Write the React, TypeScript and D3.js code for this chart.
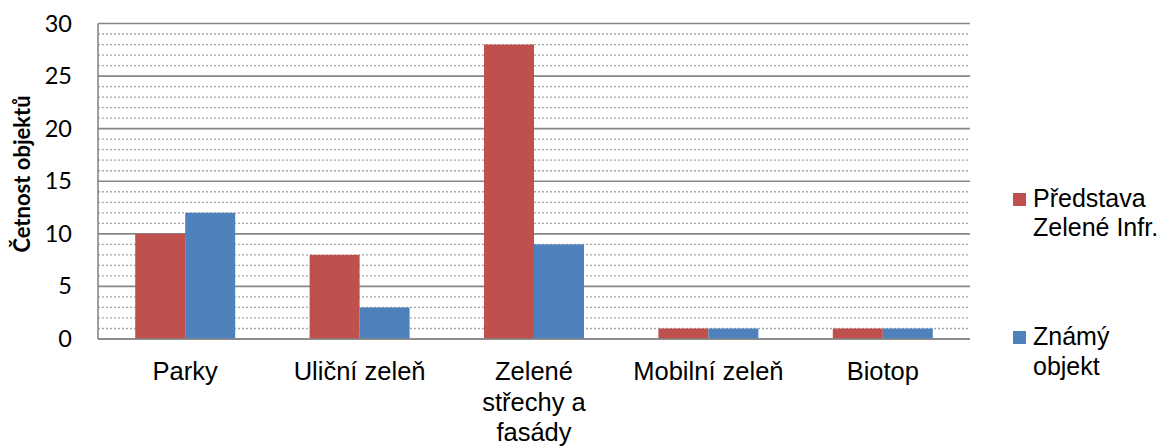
import React from "react";
import * as d3 from "d3";

const categories: string[][] = [["Parky"], ["Uliční zeleň"], ["Zelené", "střechy a", "fasády"], ["Mobilní zeleň"], ["Biotop"]];
const seriesNames: string[][] = [["Představa", "Zelené Infr."], ["Známý", "objekt"]];
const predstava: number[] = [10, 8, 28, 1, 1];
const znamy: number[] = [12, 3, 9, 1, 1];
const yTicks: number[] = [0, 5, 10, 15, 20, 25, 30];
const colors = ["#C0504D", "#4F81BD"];

const W = 1174, H = 446;
const left = 98, right = 970, top = 23.5, bottom = 339;
const arial = "'Liberation Sans', Arial, sans-serif";
const calibri = "Lato, 'Liberation Sans', sans-serif";

export default function App() {
  const x0 = d3.scaleBand<number>().domain(d3.range(categories.length)).range([left, right]).paddingInner(0).paddingOuter(0);
  const y = d3.scaleLinear().domain([0, 30]).range([bottom, top]);
  const groupW = x0.bandwidth() * (100 / 174.4);
  const x1 = d3.scaleBand<number>().domain([0, 1]).range([0, groupW]);
  const series = [predstava, znamy];
  const minor = d3.range(0, 31).filter((v) => v % 5 !== 0);

  return (
    <svg width={W} height={H} style={{ position: "absolute", left: 0, top: 0, background: "#fff" }} fontFamily={arial}>
      {minor.map((v) => (
        <line key={"m" + v} x1={left} x2={right} y1={y(v)} y2={y(v)} stroke="#a6a6a6" strokeWidth={1.3} strokeDasharray="2,2" />
      ))}
      {yTicks.map((v) => (
        <line key={"M" + v} x1={left} x2={right} y1={y(v)} y2={y(v)} stroke="#878787" strokeWidth={1.6} />
      ))}
      {series.map((vals, si) =>
        vals.map((v, i) => {
          const bx = (x0(i) as number) + (x0.bandwidth() - groupW) / 2 + (x1(si) as number);
          return <rect key={si + "-" + i} x={bx} y={y(v)} width={x1.bandwidth()} height={y(0) - y(v)} fill={colors[si]} />;
        })
      )}
      <line x1={left} x2={left} y1={top} y2={bottom} stroke="#878787" strokeWidth={1.6} />
      <line x1={left} x2={right} y1={bottom} y2={bottom} stroke="#878787" strokeWidth={1.6} />
      {yTicks.map((v) => (
        <text key={"t" + v} x={72} y={y(v) + 8} textAnchor="end" fontSize={23.5} fontFamily={calibri} fill="#000">{v}</text>
      ))}
      {categories.map((lines, i) => (
        <text key={"c" + i} x={(x0(i) as number) + x0.bandwidth() / 2} textAnchor="middle" fontSize={25.5} fill="#000">
          {lines.map((l, j) => (
            <tspan key={j} x={(x0(i) as number) + x0.bandwidth() / 2} y={380 + j * 30.5}>{l}</tspan>
          ))}
        </text>
      ))}
      <text transform={`translate(30,${174}) rotate(-90)`} textAnchor="middle" fontSize={22} fontWeight="bold" fontFamily={calibri} fill="#000">Četnost objektů</text>
      {seriesNames.map((lines, si) => {
        const by = si === 0 ? 193 : 331;
        const base = si === 0 ? 206.7 : 345;
        return (
          <g key={"l" + si}>
            <rect x={1013} y={by} width={13} height={13} fill={colors[si]} />
            <text fontSize={25} fill="#000">
              {lines.map((l, j) => (
                <tspan key={j} x={1033} y={base + j * 29.5}>{l}</tspan>
              ))}
            </text>
          </g>
        );
      })}
    </svg>
  );
}
